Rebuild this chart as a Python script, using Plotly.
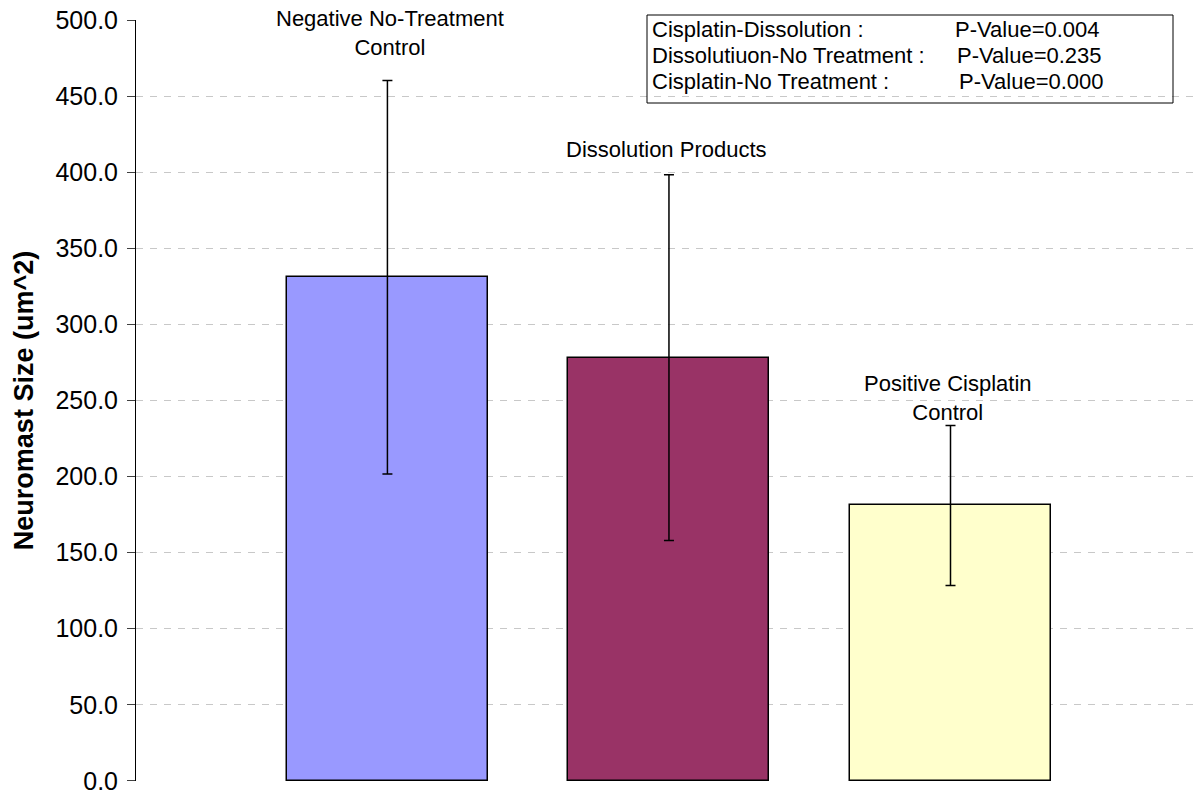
import plotly.graph_objects as go

# Group means and standard deviations of neuromast size
groups = ["Negative No-Treatment<br>Control", "Dissolution Products", "Positive Cisplatin<br>Control"]
mean_size = [330.9, 278.1, 181.0]
sd_size = [129.3, 120.2, 52.6]
bar_colors = ["#9999FF", "#993366", "#FFFFCC"]

# Pairwise comparisons shown in the legend box
comparisons = ["Cisplatin-Dissolution :", "Dissolutiuon-No Treatment :", "Cisplatin-No Treatment :"]
p_values = ["0.004", "0.235", "0.000"]

y_ticks = [0, 50, 100, 150, 200, 250, 300, 350, 400, 450, 500]

FONT = "Arial, 'Liberation Sans', sans-serif"
x_pos = list(range(len(groups)))

TOP, BOTTOM = 20, 15
PLOT_H = 796 - TOP - BOTTOM
PLOT_BOTTOM_PX = 796 - BOTTOM

fig = go.Figure()
fig.add_trace(go.Bar(
    x=x_pos,
    y=mean_size,
    width=0.714,
    marker=dict(color=bar_colors, line=dict(color="#000000", width=1.5)),
    error_y=dict(type="data", array=sd_size, visible=True,
                 color="#000000", thickness=1.5, width=5),
    showlegend=False,
))

# Group labels above each bar (vertical placement in data units)
label_y = [491.6, 414.9, 251.6]
label_dx = [3, -2, -3]
annotations = []
for i, name in enumerate(groups):
    annotations.append(dict(
        x=x_pos[i], y=label_y[i], xref="x", yref="y", text=name,
        showarrow=False, xanchor="center", yanchor="middle", xshift=label_dx[i],
        font=dict(family=FONT, size=22, color="#000000"), align="center",
    ))

# P-value listing inside the box
line_px = [29.5, 55.5, 81.5]
p_col_px = [953, 955, 957]
for i in range(len(comparisons)):
    yp = (PLOT_BOTTOM_PX - line_px[i]) / PLOT_H
    annotations.append(dict(
        x=(650 - 136) / 1060, y=yp, xref="paper", yref="paper",
        text=comparisons[i], showarrow=False, xanchor="left", yanchor="middle",
        font=dict(family=FONT, size=22, color="#000000"),
    ))
    annotations.append(dict(
        x=(p_col_px[i] - 136) / 1060, y=yp, xref="paper", yref="paper",
        text="P-Value=" + p_values[i], showarrow=False, xanchor="left", yanchor="middle",
        font=dict(family=FONT, size=22, color="#000000"),
    ))

fig.update_layout(
    width=1196, height=796,
    margin=dict(l=136, r=0, t=TOP, b=BOTTOM),
    paper_bgcolor="#FFFFFF", plot_bgcolor="#FFFFFF",
    font=dict(family=FONT, color="#000000"),
    bargap=0,
    annotations=annotations,
    shapes=[dict(
        type="rect", xref="paper", yref="paper",
        x0=(647 - 136) / 1060, x1=(1173 - 136) / 1060,
        y0=(PLOT_BOTTOM_PX - 103) / PLOT_H, y1=(PLOT_BOTTOM_PX - 15) / PLOT_H,
        line=dict(color="#000000", width=1), fillcolor="rgba(0,0,0,0)",
    )],
    xaxis=dict(
        range=[-0.893, 2.872], showticklabels=False, showgrid=False,
        zeroline=False, showline=False, ticks="", automargin=False,
    ),
    yaxis=dict(
        range=[-0.1, 500], tickvals=y_ticks, tickformat=".1f",
        tickfont=dict(family=FONT, size=25, color="#000000"),
        ticks="outside", ticklen=8, tickcolor="#404040", tickwidth=1,
        ticklabelstandoff=4, ticklabeloverflow="allow",
        showline=True, linecolor="#000000", linewidth=1,
        showgrid=True, gridcolor="#C8C8C8", gridwidth=1, griddash="7px,7px",
        zeroline=False, automargin="left",
        title=dict(text="<b>Neuromast Size (um^2)</b>",
                   font=dict(family=FONT, size=27, color="#000000"), standoff=13),
    ),
)

fig.write_html("out.html")
